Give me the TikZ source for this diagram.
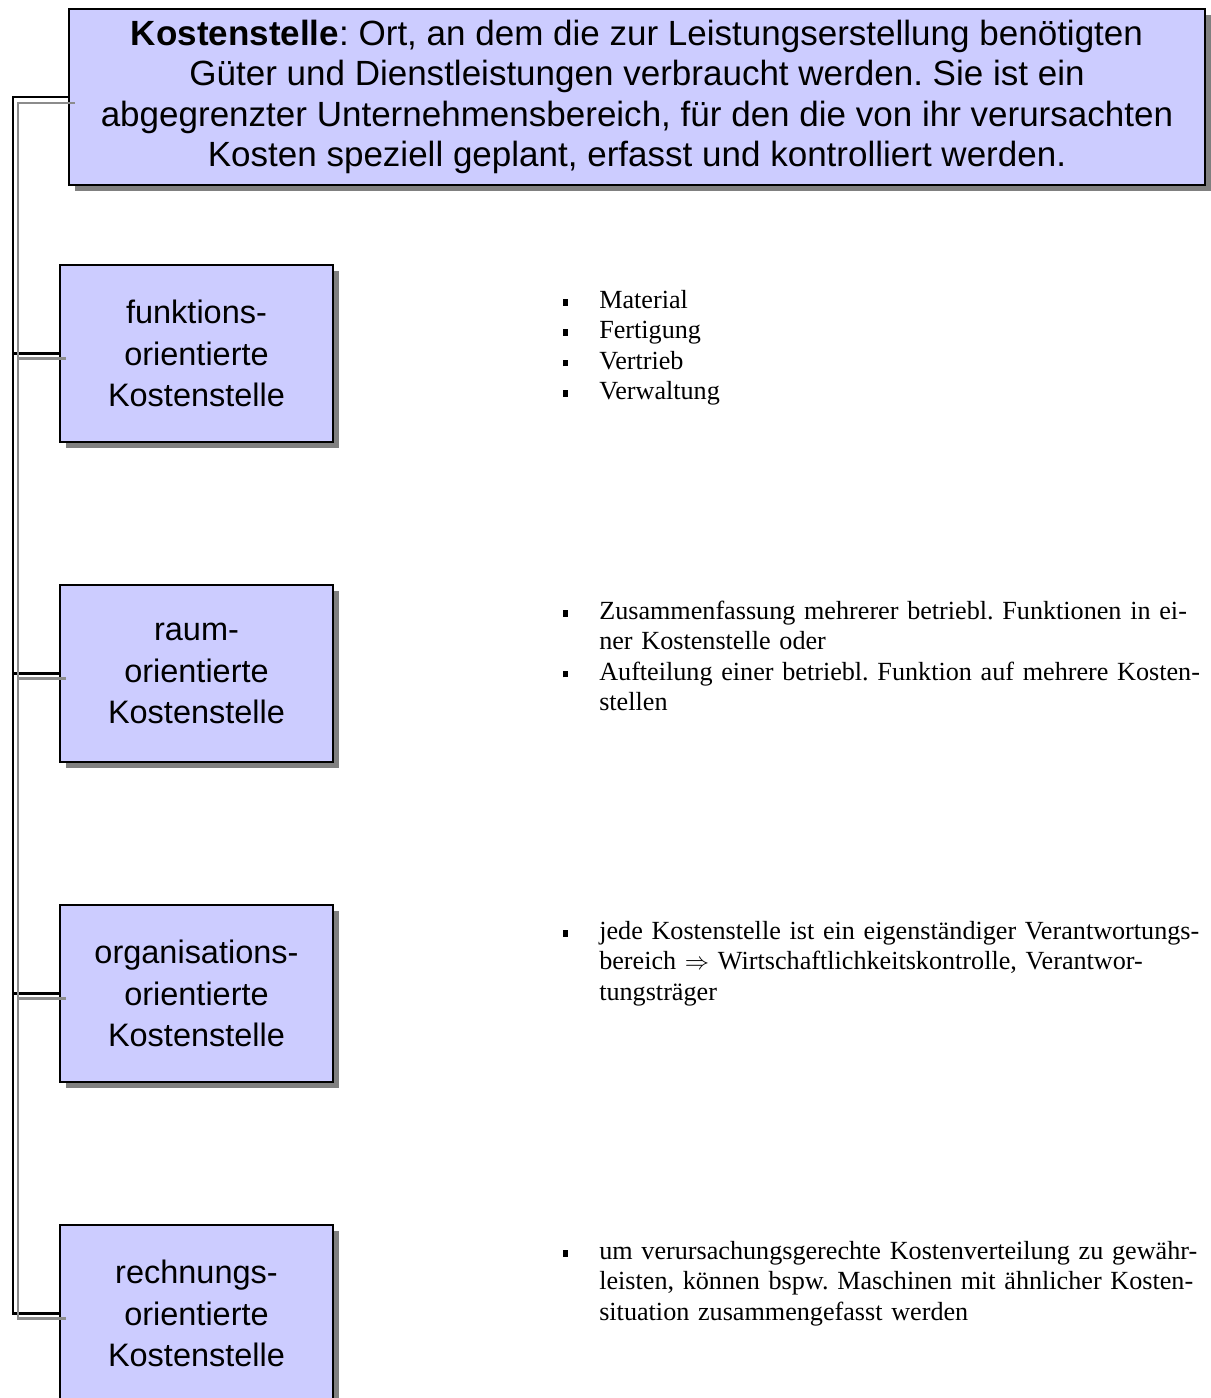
\documentclass[tikz,border=0pt]{standalone}
\usepackage{fontspec}
\usepackage{enumitem}
\usepackage{tikz}
\usetikzlibrary{shadows}
\setmainfont{Liberation Serif}
\newfontfamily\boxfont{Liberation Sans}
\definecolor{boxfill}{HTML}{CCCCFF}
\frenchspacing

\newcommand{\sqbullet}{\raisebox{2pt}{\rule{3.6pt}{4.6pt}}}
\newcommand{\listfont}{\fontsize{18.6}{21.6}\selectfont
  \spaceskip=4.65pt plus 5pt minus 2.2pt\relax}
\newenvironment{stellenlist}{%
  \begin{itemize}[label=\sqbullet, leftmargin=0.9cm, labelwidth=3.6pt,
    labelsep=0.7736cm, align=left, topsep=0pt, itemsep=0pt, parsep=0pt, partopsep=0pt]}%
  {\end{itemize}}

\begin{document}
\begin{tikzpicture}[x=0.025cm, y=-0.025cm,
    shadowed/.style={drop shadow={shadow xshift=0.15cm, shadow yshift=-0.15cm,
        fill=black!50, opacity=1}},
    defbox/.style={draw, line width=1.4pt, fill=boxfill, shadowed,
        minimum width=28.4cm, minimum height=4.4cm, inner sep=0pt, align=center,
        font=\boxfont\fontsize{24.9}{28.8}\selectfont},
    stelle/.style={draw, line width=1.4pt, fill=boxfill, shadowed,
        minimum width=6.825cm, minimum height=4.425cm, inner sep=0pt, align=center,
        font=\boxfont\fontsize{23.1}{29.5}\selectfont},
    liste/.style={anchor=base west, inner sep=0pt, text width=15.8cm, font=\listfont},
    link/.style={line width=2pt, black},
    linkshadow/.style={line width=1.6pt, black!45}]
    \useasboundingbox (0,0) rectangle (1210,1398);

    \node[defbox] (top) at (637,97) {\textbf{Kostenstelle}: Ort, an dem die zur Leistungserstellung benötigten\\
        Güter und Dienstleistungen verbraucht werden. Sie ist ein\\
        abgegrenzter Unternehmensbereich, für den die von ihr verursachten\\
        Kosten speziell geplant, erfasst und kontrolliert werden.};

    \node[stelle] (b1) at (196.5,353.5) {funktions-\\orientierte\\Kostenstelle};
    \node[stelle] (b2) at (196.5,673.5) {raum-\\orientierte\\Kostenstelle};
    \node[stelle] (b3) at (196.5,993.5) {organisations-\\orientierte\\Kostenstelle};
    \node[stelle] (b4) at (196.5,1313.5) {rechnungs-\\orientierte\\Kostenstelle};

    % tree lines on the left
    \coordinate (trunk) at (13,0);
    \draw[link] (top.west) -| (trunk |- b4.west) -- (b4.west);
    \foreach \b in {b1,b2,b3}
        \draw[link] (\b.west) -- (trunk |- \b.west);
    \draw[linkshadow] ([shift={(7,6)}]top.west) -| ([shift={(5,5)}]trunk |- b4.west)
        -- ([shift={(7,5)}]b4.west);
    \foreach \b in {b1,b2,b3}
        \draw[linkshadow] ([shift={(7,5)}]\b.west) -- ([shift={(5,5)}]trunk |- \b.west);

    % explanations
    \node[liste] (l1) at (563,278) {\begin{stellenlist}
        \item Material
        \item Fertigung
        \item Vertrieb
        \item Verwaltung
    \end{stellenlist}};
    \node[liste] (l2) at (563,589) {\begin{stellenlist}
        \item \makebox[\linewidth][s]{Zusammenfassung mehrerer betriebl. Funktionen in ei-}\newline
            ner Kostenstelle oder
        \item \makebox[\linewidth][s]{Aufteilung einer betriebl. Funktion auf mehrere Kosten-}\newline
            stellen
    \end{stellenlist}};
    \node[liste] (l3) at (563,909) {\begin{stellenlist}
        \item \makebox[\linewidth][s]{jede Kostenstelle ist ein eigenständiger Verantwortungs-}\newline
            \makebox[\linewidth][s]{bereich $\Rightarrow$ Wirtschaftlichkeitskontrolle, Verantwor-}\newline
            tungsträger
    \end{stellenlist}};
    \node[liste] (l4) at (563,1229) {\begin{stellenlist}
        \item \makebox[\linewidth][s]{um verursachungsgerechte Kostenverteilung zu gewähr-}\newline
            \makebox[\linewidth][s]{leisten, können bspw. Maschinen mit ähnlicher Kosten-}\newline
            situation zusammengefasst werden
    \end{stellenlist}};
\end{tikzpicture}
\end{document}
